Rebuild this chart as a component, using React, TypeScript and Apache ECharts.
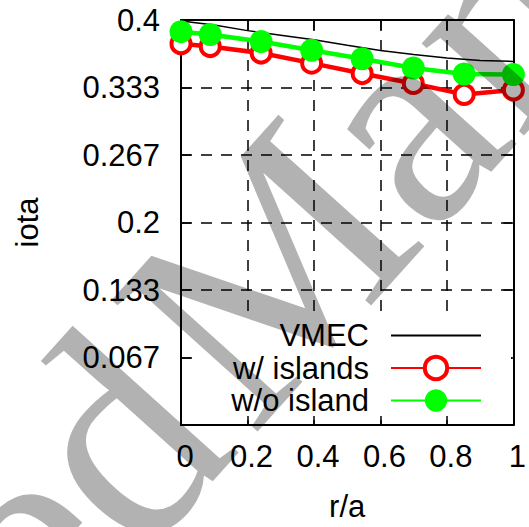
import React, { useEffect, useRef } from "react";
import * as echarts from "echarts";

// r/a positions of the computed points
const rValues = [0, 0.088, 0.241, 0.393, 0.545, 0.699, 0.852, 1.0];
// iota with islands
const iotaIslands = [0.3765, 0.3738, 0.3674, 0.3574, 0.3471, 0.3373, 0.3265, 0.3309];
// iota without island
const iotaNoIsland = [0.3885, 0.3856, 0.3787, 0.3701, 0.3618, 0.3526, 0.3466, 0.3461];
// VMEC profile
const vmecR = [0, 0.1, 0.2, 0.3, 0.4, 0.5, 0.6, 0.7, 0.8, 0.9, 1.0];
const vmecIota = [0.399, 0.395, 0.3895, 0.385, 0.3804, 0.375, 0.3699, 0.366, 0.3625, 0.36, 0.3591];

const seriesNames = ["VMEC", "w/ islands", "w/o island"];
const xTitle = "r/a";
const yTitle = "iota";
const watermarkWords = ["Accepted", "Manuscript"];

const FONT = "Liberation Sans, Arial, sans-serif";

export default function App() {
  const ref = useRef<HTMLDivElement>(null);
  useEffect(() => {
    if (!ref.current) return;
    const chart = echarts.init(ref.current, undefined, { renderer: "svg" });
    const yStep = 0.4 / 6;
    const fmt = (v: number) => (Math.abs(v) < 1e-9 ? "" : String(+v.toFixed(3)));
    const axisLine = { show: true, onZero: false, lineStyle: { color: "#000", width: 2 } };
    const tick = { show: true, inside: true, length: 10, lineStyle: { color: "#000", width: 1.5 } };
    const split = { show: true, lineStyle: { color: "#000", width: 1.5, type: [11, 9] } };
    const labelStyle = { fontSize: 31, color: "#000", fontFamily: FONT };
    const pair = (xs: number[], ys: number[]) => xs.map((x, i) => [x, ys[i]]);

    // watermark geometry
    const ang = (48 * Math.PI) / 180;
    const em = 300;
    const bx = Math.cos(ang), by = -Math.sin(ang);
    const ux = -Math.sin(ang), uy = -Math.cos(ang);
    const baseX = 252, baseY = 438; // baseline point where the second word starts
    const ax = baseX + 0.3375 * em * ux, ay = baseY + 0.3375 * em * uy;
    const gap = 16;
    const wmStyle = {
      fontSize: em, fontFamily: "Liberation Serif, Times New Roman, serif",
      fill: "#000", opacity: 0.3, verticalAlign: "middle",
    };

    chart.setOption({
      animation: false,
      backgroundColor: "#fff",
      grid: { left: 181, top: 20, width: 341, height: 408, containLabel: false },
      xAxis: [
        {
          type: "value", min: 0, max: 1, interval: 0.2, position: "bottom",
          axisLine, axisTick: tick, splitLine: split,
          axisLabel: { ...labelStyle, margin: 16, padding: [0, 0, 0, 8], showMinLabel: true, showMaxLabel: true,
            formatter: (v: number) => String(+v.toFixed(3)) },
          name: xTitle, nameLocation: "middle", nameGap: 66,
          nameTextStyle: { fontSize: 31, color: "#000", fontFamily: FONT },
        },
        {
          type: "value", min: 0, max: 1, interval: 0.2, position: "top",
          axisLine, axisTick: tick, splitLine: { show: false }, axisLabel: { show: false },
        },
      ],
      yAxis: [
        {
          type: "value", min: 0, max: 0.4, interval: yStep, position: "left",
          axisLine, axisTick: tick, splitLine: split,
          axisLabel: { ...labelStyle, margin: 21, formatter: fmt },
          name: yTitle, nameLocation: "middle", nameGap: 138, nameRotate: 90,
          nameTextStyle: { fontSize: 31, color: "#000", fontFamily: FONT },
        },
        {
          type: "value", min: 0, max: 0.4, interval: yStep, position: "right",
          axisLine, axisTick: tick, splitLine: { show: false }, axisLabel: { show: false },
        },
      ],
      legend: {
        orient: "vertical", align: "right", right: 18, top: 320,
        itemWidth: 90, itemHeight: 28, itemGap: 1.5,
        padding: [0, 29, 0, 33], backgroundColor: "#fff",
        selectedMode: false,
        textStyle: { fontSize: 31, color: "#000", fontFamily: FONT, padding: [0, 17, 0, 0] },
        data: [
          { name: seriesNames[0], itemStyle: { opacity: 0 } },
          { name: seriesNames[1], itemStyle: { color: "#fff", borderColor: "#ff0000", borderWidth: 4 } },
          { name: seriesNames[2] },
        ],
      },
      series: [
        {
          name: seriesNames[0], type: "line", data: pair(vmecR, vmecIota),
          symbol: "none", lineStyle: { color: "#000", width: 1.5 }, itemStyle: { color: "#000" },
          clip: false, z: 2,
        },
        {
          name: seriesNames[1], type: "line", data: pair(rValues, iotaIslands),
          symbol: "circle", symbolSize: 19,
          lineStyle: { color: "#ff0000", width: 4.5 },
          itemStyle: { color: "#fff", borderColor: "#ff0000", borderWidth: 4 },
          clip: false, z: 3,
        },
        {
          name: seriesNames[2], type: "line", data: pair(rValues, iotaNoIsland),
          symbol: "circle", symbolSize: 23,
          lineStyle: { color: "#00ff00", width: 4.5 },
          itemStyle: { color: "#00ff00" },
          clip: false, z: 4,
        },
      ],
      graphic: [
        {
          type: "text", x: ax - gap * bx, y: ay - gap * by, rotation: ang, z: 100, silent: true,
          style: { ...wmStyle, text: watermarkWords[0], align: "right" },
        },
        {
          type: "text", x: ax, y: ay, rotation: ang, z: 100, silent: true,
          style: { ...wmStyle, text: watermarkWords[1], align: "left" },
        },
      ],
    });
    return () => chart.dispose();
  }, []);
  return (
    <div
      ref={ref}
      style={{ position: "fixed", left: 0, top: 0, width: 529, height: 527 }}
    />
  );
}
